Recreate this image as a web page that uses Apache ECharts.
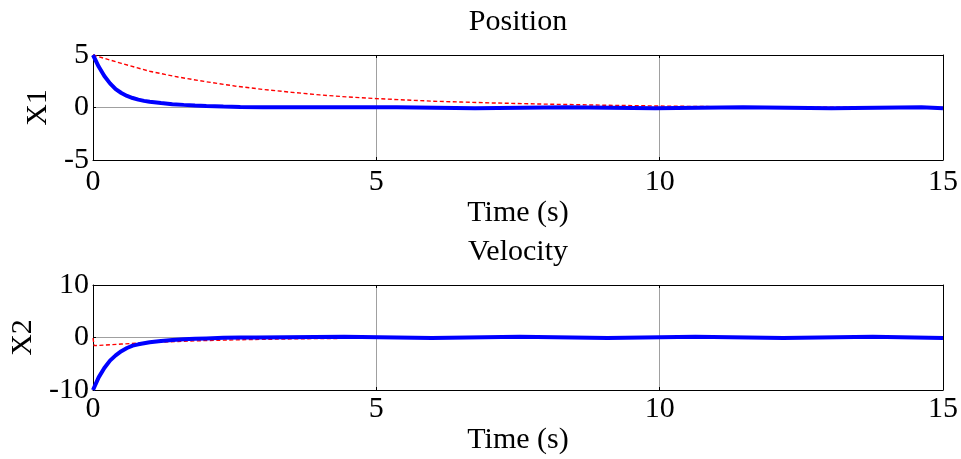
<!DOCTYPE html>
<html>
<head>
<meta charset="utf-8">
<script src="https://cdn.jsdelivr.net/npm/echarts@6/dist/echarts.min.js"></script>
<style>html,body{margin:0;padding:0;background:#fff}#c{width:961px;height:459px}</style>
</head>
<body>
<div id="c"></div>
<script>
// ---- data ----
const xTicks = [0, 5, 10, 15];
const posTicks = [-5, 0, 5];
const velTicks = [-10, 0, 10];

// Position, actual (blue)
const tPosBlue = [0, 0.1, 0.2, 0.3, 0.4, 0.5, 0.6, 0.7, 0.8, 0.9, 1.0, 1.2, 1.4, 1.6, 1.8, 2.0, 2.3, 2.6, 3.0, 3.5, 4.0,
  5.36, 5.36, 6.74, 6.74, 8.36, 8.36, 9.92, 9.92, 11.47, 11.47, 13.03, 13.03, 14.62, 14.62, 15];
const x1Blue = [5, 3.9, 3.0, 2.3, 1.75, 1.38, 1.1, 0.9, 0.75, 0.63, 0.54, 0.42, 0.32, 0.25, 0.19, 0.14, 0.09, 0.05, 0.03, 0.02, 0.02,
  0.02, -0.08, -0.08, 0.02, 0.02, -0.08, -0.08, 0.02, 0.02, -0.08, -0.08, 0.02, 0.02, -0.08, -0.08];

// Position, reference (red dashed)
const tPosRed = [0, 0.5, 1, 1.5, 2, 2.5, 3, 3.5, 4, 4.5, 5, 5.5, 6, 6.5, 7, 7.5, 8, 8.5, 9, 9.5, 10, 11, 12, 13, 14, 15];
const x1Red = [5, 4.2, 3.45, 2.9, 2.45, 2.05, 1.72, 1.45, 1.2, 1.0, 0.85, 0.72, 0.6, 0.52, 0.44, 0.38, 0.32, 0.27, 0.22, 0.18, 0.14, 0.08, 0.05, 0.03, 0.02, 0.01];

// Velocity, actual (blue)
const tVelBlue = [0, 0.1, 0.2, 0.3, 0.4, 0.5, 0.6, 0.7, 0.8, 0.9, 1.0, 1.2, 1.4, 1.6, 1.8, 2.0, 2.3, 2.6, 2.88, 2.88,
  4.43, 4.43, 5.98, 5.98, 7.53, 7.53, 9.08, 9.08, 10.63, 10.63, 12.18, 12.18, 13.76, 13.76, 15];
const x2Blue = [-10, -7.6, -5.8, -4.4, -3.4, -2.6, -2.0, -1.55, -1.3, -1.1, -0.9, -0.65, -0.48, -0.35, -0.25, -0.17, -0.05, 0.0, 0.0, 0.15,
  0.15, -0.08, -0.08, 0.15, 0.15, -0.08, -0.08, 0.15, 0.15, -0.08, -0.08, 0.15, 0.15, -0.08, -0.08];

// Velocity, reference (red dashed)
const tVelRed = [0, 0.02, 0.5, 1, 1.5, 2, 2.5, 3, 3.5, 4, 5, 6, 7, 8, 10, 12, 15];
const x2Red = [-0.1, -1.55, -1.25, -0.95, -0.75, -0.58, -0.45, -0.35, -0.27, -0.2, -0.13, -0.09, -0.06, -0.04, -0.02, -0.01, -0.01];

const titles = ['Position', 'Velocity'];
const yNames = ['X1', 'X2'];
const xName = 'Time (s)';

// ---- chart ----
const FONT = 'Liberation Serif';
const FS = 30;
const pairs = (t, v) => t.map((x, i) => [x, v[i]]);
const gridColor = '#a0a0a0';
const black = { show: true, onZero: false, lineStyle: { color: '#000', width: 1 } };
const tick = { show: true, inside: true, length: 3, lineStyle: { color: '#000' } };
const xMin = xTicks[0], xMax = xTicks[xTicks.length - 1], xStep = xTicks[1] - xTicks[0];

function xAxes(gi, gap, margin) {
  return [
    { type: 'value', gridIndex: gi, position: 'bottom', min: xMin, max: xMax, interval: xStep, z: 1,
      name: xName, nameLocation: 'middle', nameGap: gap,
      nameTextStyle: { fontFamily: FONT, fontSize: FS, color: '#000' },
      axisLine: black, axisTick: tick,
      axisLabel: { fontFamily: FONT, fontSize: FS, color: '#000', margin: margin },
      splitLine: { show: false } },
    { type: 'value', gridIndex: gi, position: 'top', min: xMin, max: xMax, interval: xStep, z: 1,
      axisLine: black, axisTick: tick, axisLabel: { show: false }, splitLine: { show: false } },
    { type: 'value', gridIndex: gi, position: 'bottom', min: xMin, max: xMax, interval: xStep, z: 0,
      axisLine: { show: false }, axisTick: { show: false }, axisLabel: { show: false },
      splitLine: { show: true, lineStyle: { color: gridColor, width: 1 } } }
  ];
}
function yAxes(gi, ticks, name, gap) {
  const lo = ticks[0], hi = ticks[ticks.length - 1], step = ticks[1] - ticks[0];
  return [
    { type: 'value', gridIndex: gi, position: 'left', min: lo, max: hi, interval: step, z: 1,
      name: name, nameLocation: 'middle', nameGap: gap, nameRotate: 90,
      nameTextStyle: { fontFamily: FONT, fontSize: FS, color: '#000' },
      axisLine: black, axisTick: tick,
      axisLabel: { fontFamily: FONT, fontSize: FS, color: '#000', margin: 4, padding: [5, 0, 0, 0] },
      splitLine: { show: false } },
    { type: 'value', gridIndex: gi, position: 'right', min: lo, max: hi, interval: step, z: 1,
      axisLine: black, axisTick: tick, axisLabel: { show: false }, splitLine: { show: false } },
    { type: 'value', gridIndex: gi, position: 'left', min: lo, max: hi, interval: step, z: 0,
      axisLine: { show: false }, axisTick: { show: false }, axisLabel: { show: false },
      splitLine: { show: true, lineStyle: { color: gridColor, width: 1 } } }
  ];
}

const red = (data, xi, yi) => ({ type: 'line', xAxisIndex: xi, yAxisIndex: yi, data, showSymbol: false, clip: false,
  lineStyle: { color: '#ff0000', width: 1.4, type: [4, 2.5] }, z: 2 });
const blue = (data, xi, yi) => ({ type: 'line', xAxisIndex: xi, yAxisIndex: yi, data, showSymbol: false, clip: false,
  lineStyle: { color: '#0000ff', width: 4 }, z: 3 });

const chart = echarts.init(document.getElementById('c'), null, { renderer: 'canvas' });
chart.setOption({
  animation: false,
  backgroundColor: '#fff',
  title: [
    { text: titles[0], left: 518, textAlign: 'center', top: 7, padding: 0,
      textStyle: { fontFamily: FONT, fontSize: FS, fontWeight: 'normal', color: '#000' } },
    { text: titles[1], left: 518, textAlign: 'center', top: 237, padding: 0,
      textStyle: { fontFamily: FONT, fontSize: FS, fontWeight: 'normal', color: '#000' } }
  ],
  grid: [
    { left: 93, right: 18, top: 55, height: 105 },
    { left: 93, right: 18, top: 285, height: 105 }
  ],
  xAxis: [...xAxes(0, 35, 7), ...xAxes(1, 33, 4)],
  yAxis: [...yAxes(0, posTicks, yNames[0], 36),
          ...yAxes(1, velTicks, yNames[1], 52)],
  series: [
    red(pairs(tPosRed, x1Red), 0, 0),
    blue(pairs(tPosBlue, x1Blue), 0, 0),
    red(pairs(tVelRed, x2Red), 3, 3),
    blue(pairs(tVelBlue, x2Blue), 3, 3)
  ]
});
</script>
</body>
</html>
